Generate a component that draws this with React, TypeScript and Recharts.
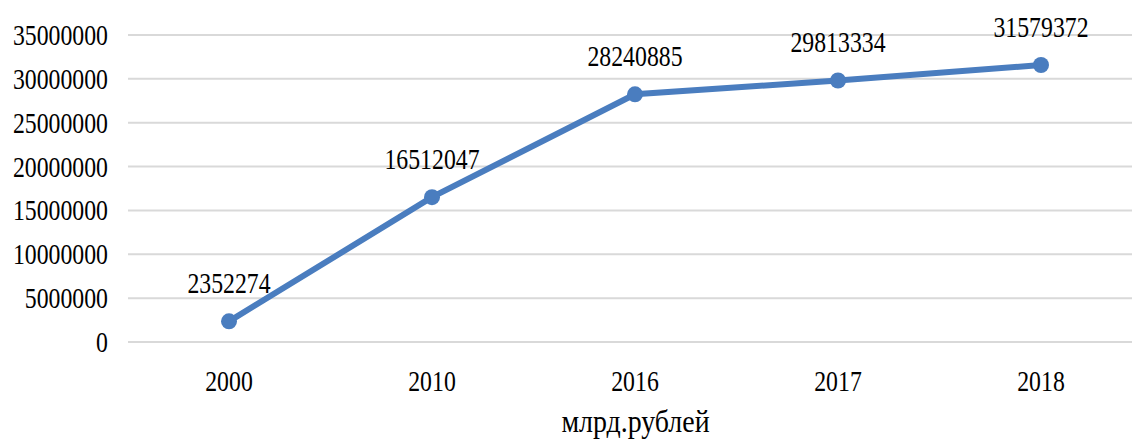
import { LineChart, Line, XAxis, YAxis, CartesianGrid, LabelList, Label } from "recharts";

const years = ["2000", "2010", "2016", "2017", "2018"];
const values = [2352274, 16512047, 28240885, 29813334, 31579372];
const yTicks = [0, 5000000, 10000000, 15000000, 20000000, 25000000, 30000000, 35000000];
const axisTitle = "млрд.рублей";

const data = years.map((year, i) => ({ year, value: values[i] }));

const FONT = "'Liberation Serif', 'Times New Roman', serif";
const SIZE = 29;
const SQUEEZE = 0.82;
const TEXT = "#000";

// Times text in the picture is narrowed horizontally
function Narrow({ x, y, anchor, size = SIZE, squeeze = SQUEEZE, children }: { x: number; y: number; anchor: "start" | "middle" | "end"; size?: number; squeeze?: number; children: any }) {
  return (
    <text
      transform={`translate(${x},${y}) scale(${squeeze},1)`}
      x={0}
      y={0}
      textAnchor={anchor}
      fontFamily={FONT}
      fontSize={size}
      fill={TEXT}
    >
      {children}
    </text>
  );
}

const YTick = (props: any) => <Narrow x={props.x} y={props.y + 10} anchor="end">{props.payload.value}</Narrow>;
const XTick = (props: any) => <Narrow x={props.x} y={props.y + 49} anchor="middle">{props.payload.value}</Narrow>;

const PointLabel = (props: any) => (
  <Narrow x={props.x} y={props.y - 28} anchor="middle">{props.value}</Narrow>
);

const AxisTitle = (props: any) => {
  const vb = props.viewBox;
  return <Narrow x={vb.x + vb.width / 2} y={432} anchor="middle" size={31} squeeze={0.9}>{axisTitle}</Narrow>;
};

export default function App() {
  return (
    <div style={{ position: "absolute", left: 0, top: 0, width: 1132, height: 441, overflow: "hidden", background: "#fff" }}>
      <LineChart width={1150} height={441} data={data} margin={{ top: 35, right: 7, bottom: 0, left: 0 }}>
        <CartesianGrid vertical={false} stroke="#d9d9d9" strokeWidth={2} />
        <XAxis
          dataKey="year"
          height={99}
          padding={{ left: 101, right: 102 }}
          axisLine={false}
          tickLine={false}
          tickSize={0}
          tickMargin={0}
          tick={<XTick />}
        >
          <Label content={<AxisTitle />} />
        </XAxis>
        <YAxis
          width={128}
          domain={[0, 35000000]}
          ticks={yTicks}
          axisLine={false}
          tickLine={false}
          tickSize={0}
          tickMargin={20}
          tick={<YTick />}
        />
        <Line
          dataKey="value"
          stroke="#4a7dbf"
          strokeWidth={6}
          dot={{ r: 8, fill: "#4a7dbf", stroke: "#4a7dbf", strokeWidth: 0 }}
          isAnimationActive={false}
        >
          <LabelList dataKey="value" content={<PointLabel />} />
        </Line>
      </LineChart>
    </div>
  );
}
